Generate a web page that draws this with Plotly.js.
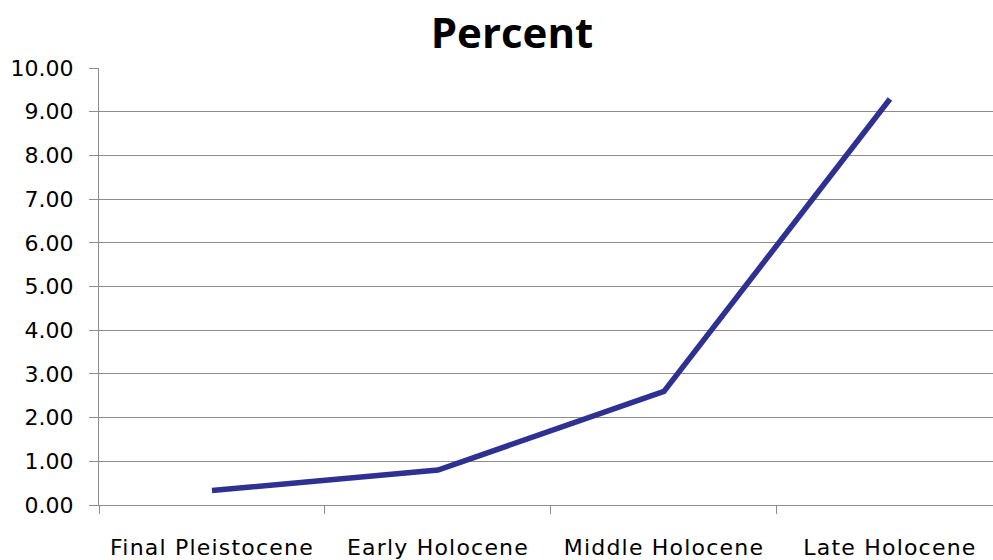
<!DOCTYPE html>
<html>
<head>
<meta charset="utf-8">
<script src="https://cdn.plot.ly/plotly-3.0.1.min.js"></script>
<style>
html,body{margin:0;padding:0;background:#fff;}
#chart{width:993px;height:560px;}
.xtick text{letter-spacing:1.2px;}
</style>
</head>
<body>
<div id="chart"></div>
<script>
const periods = ["Final Pleistocene", "Early Holocene", "Middle Holocene", "Late Holocene"];
const percentValues = [0.33, 0.80, 2.60, 9.29];
const yTickValues = [0, 1, 2, 3, 4, 5, 6, 7, 8, 9, 10];
const yTickLabels = ["0.00", "1.00", "2.00", "3.00", "4.00", "5.00", "6.00", "7.00", "8.00", "9.00", "10.00"];
const chartTitle = "Percent";

const trace = {
  x: periods,
  y: percentValues,
  type: "scatter",
  mode: "lines",
  line: {color: "#2E3192", width: 5.5},
  hoverinfo: "skip"
};

const layout = {
  width: 993,
  height: 560,
  margin: {l: 99, r: 0, t: 68, b: 55, pad: 0},
  paper_bgcolor: "#ffffff",
  plot_bgcolor: "#ffffff",
  showlegend: false,
  title: {
    text: chartTitle,
    font: {family: "'Open Sans', Lato, sans-serif", size: 42, color: "#000000", weight: "bold"},
    xref: "container", yref: "container",
    x: 512/993, xanchor: "center",
    y: 1 - 33/560, yanchor: "middle"
  },
  xaxis: {
    type: "category",
    range: [-0.5, 3.456],
    tickson: "boundaries",
    ticks: "outside",
    ticklen: 8,
    tickwidth: 1,
    tickcolor: "#8c8c8c",
    showgrid: false,
    showline: true,
    linecolor: "#8c8c8c",
    linewidth: 1,
    zeroline: false,
    ticklabelstandoff: 23,
    tickfont: {family: "'DejaVu Sans', sans-serif", size: 22, color: "#000000"},
    fixedrange: true
  },
  yaxis: {
    range: [0, 10],
    tickmode: "array",
    tickvals: yTickValues,
    ticktext: yTickLabels,
    ticks: "outside",
    ticklen: 9,
    tickwidth: 1,
    tickcolor: "#8c8c8c",
    showgrid: true,
    gridcolor: "#8c8c8c",
    gridwidth: 1,
    showline: true,
    linecolor: "#8c8c8c",
    linewidth: 1,
    zeroline: false,
    ticklabelstandoff: 11,
    tickfont: {family: "'DejaVu Sans', sans-serif", size: 22, color: "#000000"},
    fixedrange: true
  }
};

Plotly.newPlot("chart", [trace], layout, {displayModeBar: false, staticPlot: true});
</script>
</body>
</html>
